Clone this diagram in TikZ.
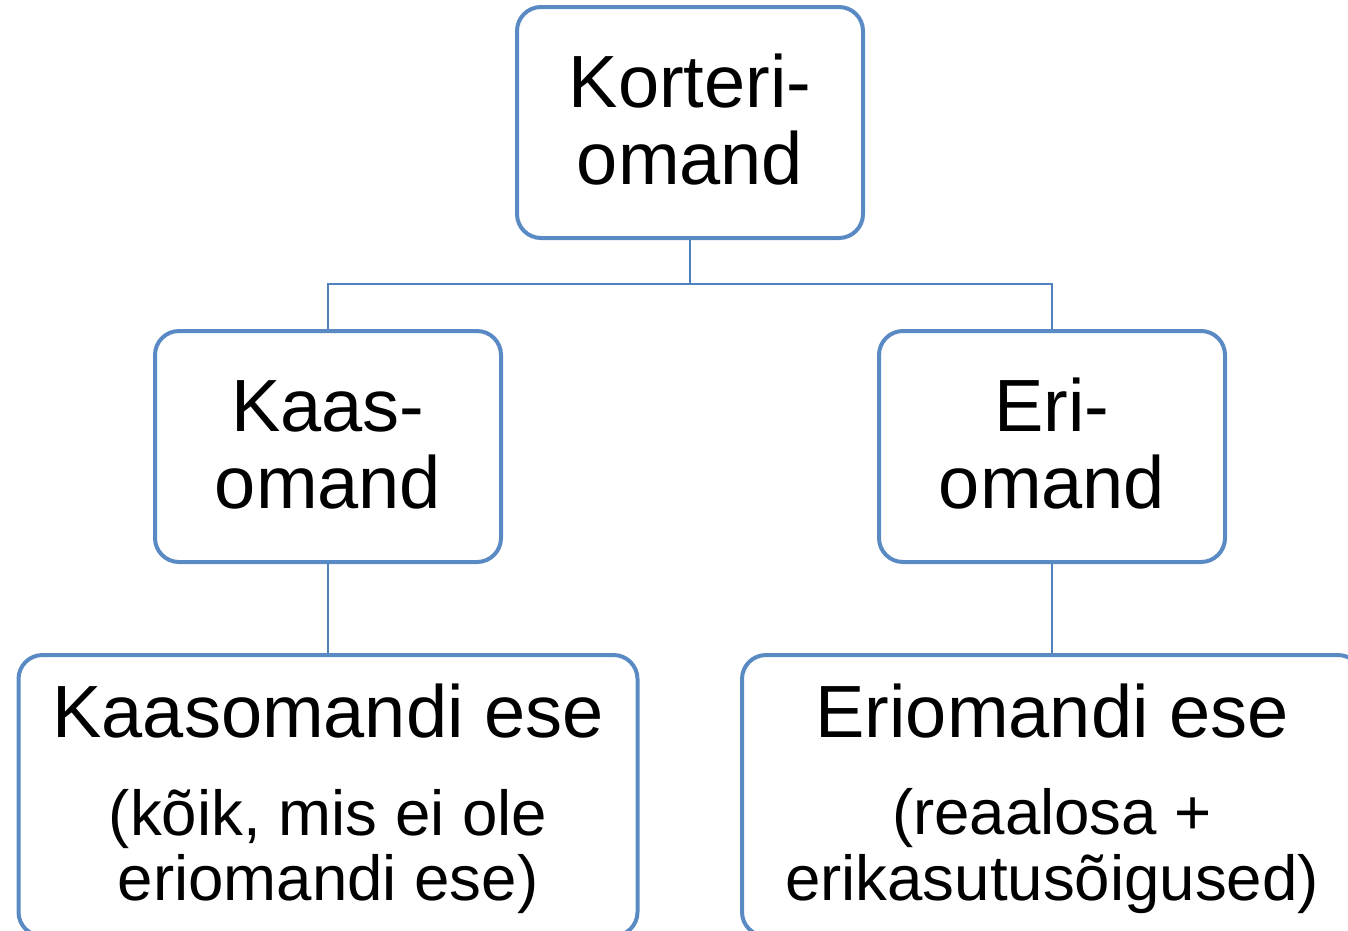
\documentclass[tikz,border=0pt]{standalone}
\usepackage{fontspec}
\setmainfont{Liberation Sans}
\definecolor{boxblue}{HTML}{5A8AC4}
\definecolor{lineblue}{HTML}{4F81BD}
\begin{document}
\begin{tikzpicture}[x=1pt,y=-1pt,
  box/.style={draw=boxblue, line width=4pt, rounded corners=24pt, fill=white, inner sep=0pt},
  conn/.style={draw=lineblue, line width=2.5pt},
  bigtext/.style={anchor=base, inner sep=0pt, font=\fontsize{74}{77}\selectfont},
  smalltext/.style={anchor=base, inner sep=0pt, font=\fontsize{63.6}{65}\selectfont}]
\clip (0,0) rectangle (1348,930);
% boxes
\node[box, minimum width=346pt, minimum height=231pt] (top) at (690,122.5) {};
\node[box, minimum width=346pt, minimum height=231pt] (kaas) at (328,446.5) {};
\node[box, minimum width=346pt, minimum height=231pt] (eri) at (1052,446.5) {};
\node[box, minimum width=619pt, minimum height=281pt] (kaasese) at (328,795.5) {};
\node[box, minimum width=620pt, minimum height=281pt] (eriese) at (1052,795.5) {};
% connectors
\coordinate (bus) at (690,284);
\draw[conn] (top.south) -- (bus);
\draw[conn] (bus) -| (kaas.north);
\draw[conn] (bus) -| (eri.north);
\draw[conn] (kaas.south) -- (kaasese.north);
\draw[conn] (eri.south) -- (eriese.north);
% texts
\node[bigtext] (t1a) at (690,107) {Korteri-};
\node[bigtext] (t1b) at (690,184) {omand};
\node[bigtext] (t2a) at (328,431) {Kaas-};
\node[bigtext] (t2b) at (328,508) {omand};
\node[bigtext] (t3a) at (1052,431) {Eri-};
\node[bigtext] (t3b) at (1052,508) {omand};
\node[bigtext] (t4a) at (328,737) {Kaasomandi ese};
\node[smalltext] (t4b) at (328,835) {(kõik, mis ei ole};
\node[smalltext] (t4c) at (328,900) {eriomandi ese)};
\node[bigtext] (t5a) at (1052,737) {Eriomandi ese};
\node[smalltext] (t5b) at (1052,834) {(reaalosa +};
\node[smalltext] (t5c) at (1052,900) {erikasutusõigused)};
\end{tikzpicture}
\end{document}
